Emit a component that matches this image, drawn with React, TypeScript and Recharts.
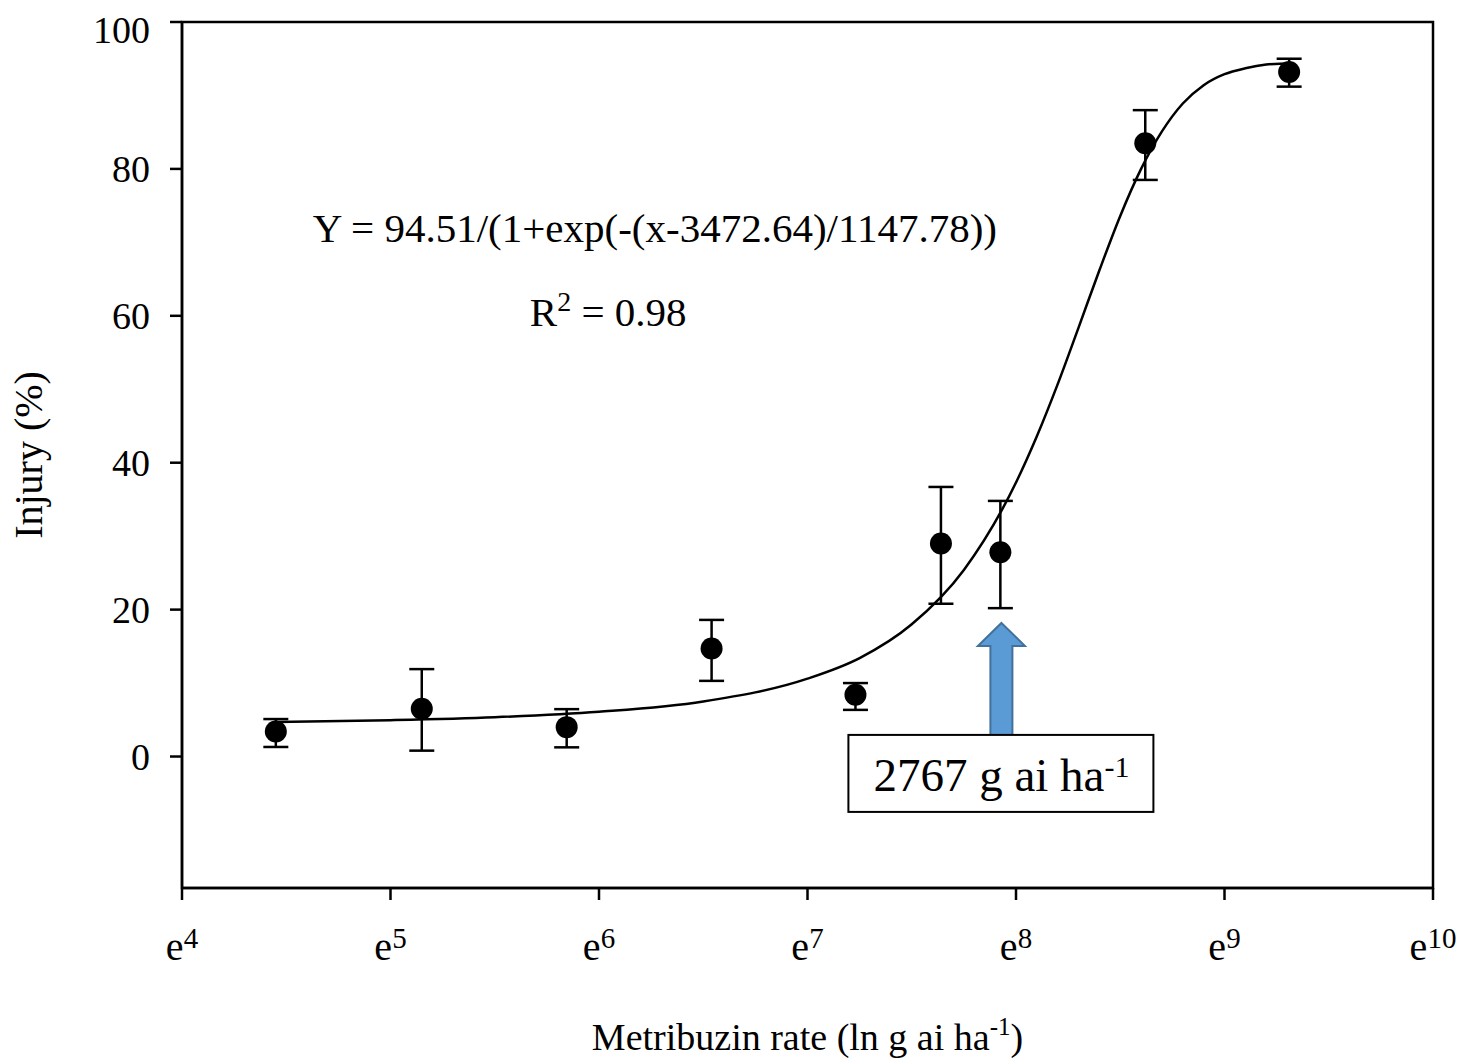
import React from 'react';
import {
  ComposedChart,
  Line,
  Scatter,
  ErrorBar,
  XAxis,
  YAxis,
  ReferenceArea,
  ReferenceDot,
} from 'recharts';

const FONT = '"Liberation Serif", "Times New Roman", serif';

// observed injury means, x is ln(g ai/ha)
const rateLn = [4.45, 5.15, 5.845, 6.54, 7.23, 7.64, 7.925, 8.62, 9.31];
const injury = [3.4, 6.5, 4.0, 14.7, 8.4, 29.0, 27.8, 83.5, 93.2];
const errLow = [2.1, 5.7, 2.75, 4.4, 2.05, 8.2, 7.6, 5.0, 2.0];
const errHigh = [1.7, 5.4, 2.45, 3.9, 1.6, 7.7, 7.0, 4.5, 1.8];

// fitted curve
const fitLn = [4.45, 5.0, 5.5, 6.0, 6.5, 7.0, 7.25, 7.5, 7.75, 8.0, 8.1, 8.2, 8.3, 8.4, 8.5, 8.6, 8.7, 8.8, 8.9, 9.0, 9.1, 9.2, 9.33];
const fitInjury = [4.7, 4.95, 5.35, 6.1, 7.5, 10.6, 13.4, 18.0, 25.4, 37.3, 43.6, 50.7, 58.4, 66.2, 73.6, 80.0, 85.1, 88.9, 91.4, 92.9, 93.7, 94.2, 94.4];

const xTicks = [4, 5, 6, 7, 8, 9, 10];
const yTicks = [0, 20, 40, 60, 80, 100];

const points = rateLn.map((x, i) => ({ x, y: injury[i], err: [errLow[i], errHigh[i]] }));
const fit = fitLn.map((x, i) => ({ x, y: fitInjury[i] }));

function XTick({ x, y, payload }: any) {
  return (
    <text x={x} y={y + 58} textAnchor="middle" fontFamily={FONT} fontSize={40} fill="#000">
      e
      <tspan fontSize={29} dy={-12}>
        {payload.value}
      </tspan>
    </text>
  );
}

const Dot = (p: any) => <circle cx={p.cx} cy={p.cy} r={11} fill="#000" />;

const Equation = (p: any) => (
  <text x={p.cx} y={p.cy} fontFamily={FONT} fontSize={41} fill="#000">
    Y = 94.51/(1+exp(-(x-3472.64)/1147.78))
  </text>
);

const RSquared = (p: any) => (
  <text x={p.cx} y={p.cy} fontFamily={FONT} fontSize={41} fill="#000">
    R
    <tspan fontSize={28} dy={-15}>2</tspan>
    <tspan dy={15}> = 0.98</tspan>
  </text>
);

const Callout = ({ cx, cy }: any) => (
  <g>
    <path
      d={`M${cx},${cy} L${cx + 23.5},${cy + 23} L${cx + 11},${cy + 23} L${cx + 11},${cy + 112} L${cx - 11},${cy + 112} L${cx - 11},${cy + 23} L${cx - 23.5},${cy + 23} Z`}
      fill="#5B9BD5"
      stroke="#41719C"
      strokeWidth={2}
    />
    <rect x={cx - 153} y={cy + 112} width={305} height={77} fill="#fff" stroke="#000" strokeWidth={2} />
    <text x={cx} y={cy + 168} textAnchor="middle" fontFamily={FONT} fontSize={47} fill="#000">
      2767 g ai ha
      <tspan fontSize={30} dy={-14}>-1</tspan>
    </text>
  </g>
);

export default function App() {
  return (
    <div style={{ padding: '8px 0 0 8px' }}>
      <style>{'body { margin: 0; overflow: hidden; }'}</style>
      <ComposedChart
        width={1453}
        height={1051}
        margin={{ top: 14, right: 28, bottom: 1, left: 0 }}
        style={{ fontFamily: FONT }}
      >
        <ReferenceArea x1={4} x2={10} y1={-17.9} y2={100} fill="none" stroke="#000" strokeWidth={2.5} />
        <XAxis
          type="number"
          dataKey="x"
          domain={[4, 10]}
          ticks={xTicks}
          height={170}
          tickSize={12}
          tick={<XTick />}
          axisLine={{ stroke: '#000', strokeWidth: 2.5 }}
          tickLine={{ stroke: '#000', strokeWidth: 2.5 }}
          label={{
            content: ({ viewBox }: any) => (
              <text
                x={viewBox.x + viewBox.width / 2}
                y={viewBox.y + 162}
                textAnchor="middle"
                fontFamily={FONT}
                fontSize={38}
                fill="#000"
              >
                Metribuzin rate (ln g ai ha
                <tspan fontSize={25} dy={-15}>-1</tspan>
                <tspan dy={15}>)</tspan>
              </text>
            ),
          }}
        />
        <YAxis
          type="number"
          dataKey="y"
          domain={[-17.9, 100]}
          ticks={yTicks}
          width={174}
          tickSize={12}
          tickMargin={20}
          tick={{ fontSize: 38, fill: '#000', fontFamily: FONT }}
          axisLine={{ stroke: '#000', strokeWidth: 2.5 }}
          tickLine={{ stroke: '#000', strokeWidth: 2.5 }}
          label={{
            content: ({ viewBox }: any) => (
              <g transform={`translate(${viewBox.x + 34} ${viewBox.y + viewBox.height / 2}) rotate(-90)`}>
                <text x={0} y={0} textAnchor="middle" fontFamily={FONT} fontSize={40} fill="#000">
                  Injury (%)
                </text>
              </g>
            ),
          }}
        />
        <Line
          data={fit}
          dataKey="y"
          type="monotone"
          stroke="#000"
          strokeWidth={2.5}
          dot={false}
          activeDot={false}
          isAnimationActive={false}
        />
        <Scatter data={points} dataKey="y" fill="#000" shape={Dot} isAnimationActive={false}>
          <ErrorBar dataKey="err" direction="y" width={12.5} stroke="#000" strokeWidth={2.5} />
        </Scatter>
        <ReferenceDot x={4.627} y={70.1} r={0} shape={Equation} />
        <ReferenceDot x={5.668} y={58.56} r={0} shape={RSquared} />
        <ReferenceDot x={7.93} y={18.19} r={0} shape={Callout} />
      </ComposedChart>
    </div>
  );
}
